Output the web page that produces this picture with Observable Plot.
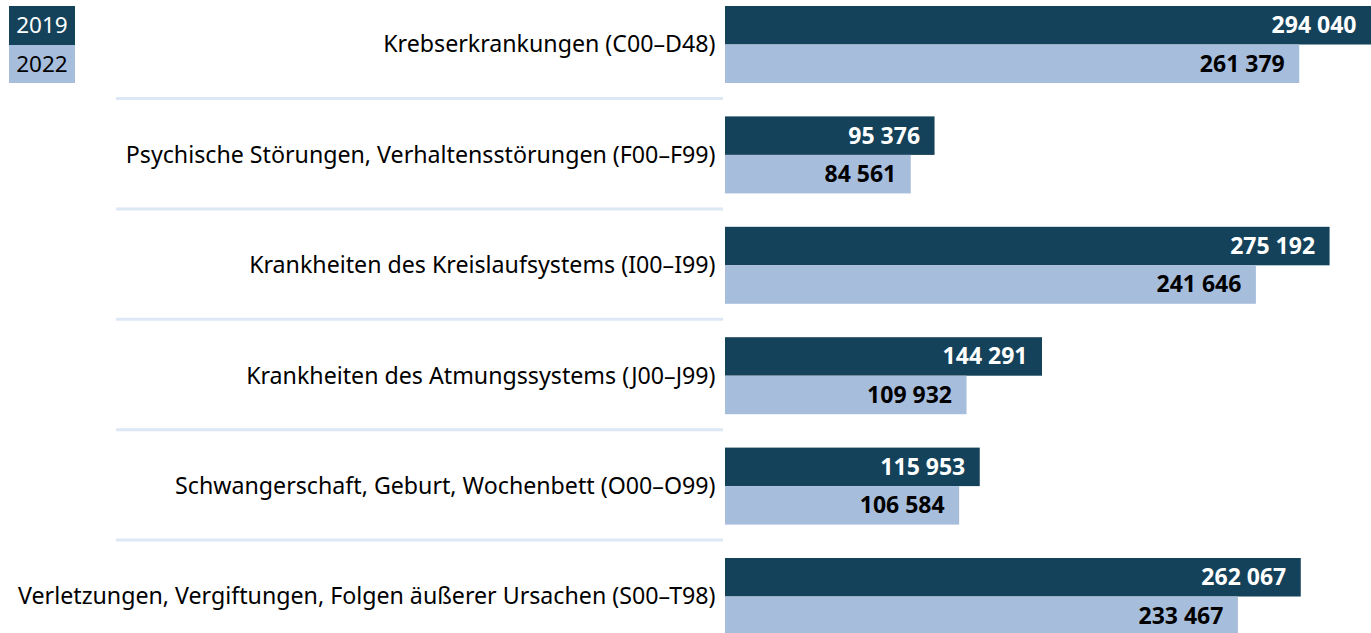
<!DOCTYPE html>
<html>
<head>
<meta charset="utf-8">
<script src="https://cdn.jsdelivr.net/npm/d3@7"></script>
<script src="https://cdn.jsdelivr.net/npm/@observablehq/plot@0.6"></script>
<style>
  html, body { margin: 0; padding: 0; background: #fff; }
  #wrap { position: relative; width: 1371px; height: 633px; font-family: "Noto Sans", sans-serif; }
  #legend { position: absolute; left: 9px; top: 6px; }
  #legend div { width: 66px; height: 38.5px; line-height: 38.5px; text-align: center; font-size: 22.5px; }
</style>
</head>
<body>
<div id="wrap">
  <div id="chart"></div>
  <div id="legend"></div>
</div>
<script>
const categories = [
  "Krebserkrankungen (C00–D48)",
  "Psychische Störungen, Verhaltensstörungen (F00–F99)",
  "Krankheiten des Kreislaufsystems (I00–I99)",
  "Krankheiten des Atmungssystems (J00–J99)",
  "Schwangerschaft, Geburt, Wochenbett (O00–O99)",
  "Verletzungen, Vergiftungen, Folgen äußerer Ursachen (S00–T98)"
];
const years = ["2019", "2022"];
const values2019 = [294040, 95376, 275192, 144291, 115953, 262067];
const values2022 = [261379, 84561, 241646, 109932, 106584, 233467];

const colors = {"2019": "#14425a", "2022": "#a7bddc"};
const textColors = {"2019": "#ffffff", "2022": "#000000"};

const fmt = d3.formatLocale({decimal: ",", thousands: " ", grouping: [3], currency: ["", " €"]}).format(",d");

const rows2019 = categories.map((c, i) => ({category: c, year: "2019", value: values2019[i]}));
const rows2022 = categories.map((c, i) => ({category: c, year: "2022", value: values2022[i]}));

const half = 38.5;

const chart = Plot.plot({
  width: 1371,
  height: 633,
  marginLeft: 725,
  marginRight: 0,
  marginTop: 6,
  marginBottom: 0,
  style: {fontFamily: "'Noto Sans', sans-serif", fontSize: "23px", color: "#000", background: "#fff", overflow: "visible"},
  x: {domain: [0, d3.max(values2019)], range: [725, 1371], axis: null},
  y: {domain: categories, range: [6, 635], paddingInner: 0.3025, paddingOuter: 0, align: 0, round: false, label: null},
  marks: [
    Plot.ruleY(categories.slice(0, -1), {
      y: d => d, dy: half + 15, stroke: "#dde8f6", strokeWidth: 3,
      insetLeft: -(725 - 116), insetRight: 1371 - 723
    }),
    Plot.barX(rows2019, {y: "category", x: "value", fill: colors["2019"], insetBottom: half}),
    Plot.barX(rows2022, {y: "category", x: "value", fill: colors["2022"], insetTop: half}),
    Plot.text(rows2019, {y: "category", x: "value", text: d => fmt(d.value), dy: -half / 2, dx: -15, textAnchor: "end", fill: textColors["2019"], fontWeight: "bold", fontSize: 23}),
    Plot.text(rows2022, {y: "category", x: "value", text: d => fmt(d.value), dy: half / 2, dx: -15, textAnchor: "end", fill: textColors["2022"], fontWeight: "bold", fontSize: 23}),
    Plot.axisY({tickSize: 0, tickPadding: 10, fontSize: 23.2, fill: "#000", label: null})
  ]
});
document.getElementById("chart").appendChild(chart);

const legend = document.getElementById("legend");
years.forEach(y => {
  const d = document.createElement("div");
  d.textContent = y;
  d.style.background = colors[y];
  d.style.color = textColors[y];
  legend.appendChild(d);
});
</script>
</body>
</html>
